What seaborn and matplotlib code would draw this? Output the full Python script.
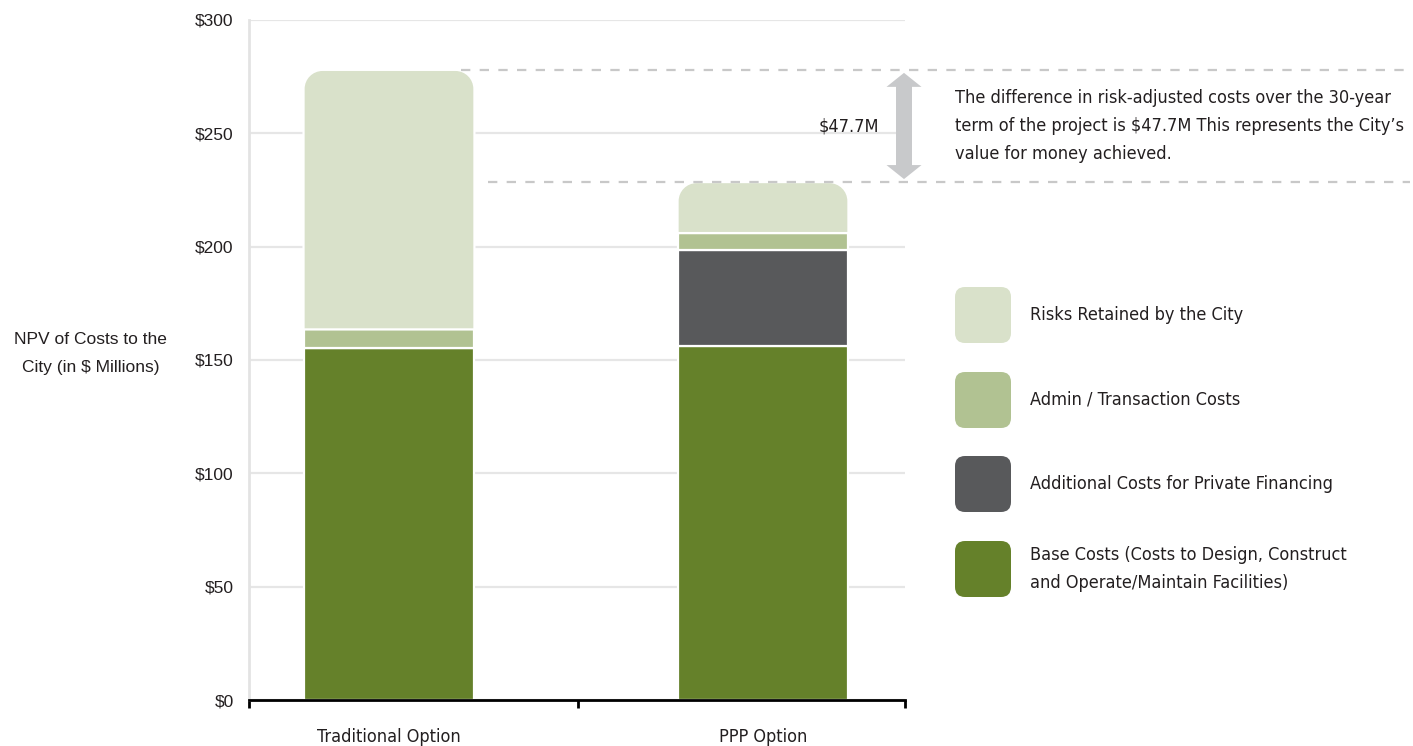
import numpy as np
import pandas as pd
import matplotlib
matplotlib.use("Agg")
import matplotlib.pyplot as plt
import seaborn as sns
from matplotlib.path import Path
from matplotlib.patches import PathPatch, FancyBboxPatch, FancyArrow

# ---------------- data ----------------
options = ["Traditional Option", "PPP Option"]
base_costs = [155.5, 156.0]
private_financing = [0.0, 42.5]
admin_costs = [8.0, 7.5]
risks_retained = [114.5, 22.5]

layer_names = [
    "Base Costs (Costs to Design, Construct\nand Operate/Maintain Facilities)",
    "Additional Costs for Private Financing",
    "Admin / Transaction Costs",
    "Risks Retained by the City",
]
layer_colors = ["#65812a", "#58595b", "#b1c292", "#d9e1ca"]

y_ticks = [0, 50, 100, 150, 200, 250, 300]
y_tick_labels = ["$0", "$50", "$100", "$150", "$200", "$250", "$300"]
y_label = "NPV of Costs to the\nCity (in $ Millions)"
difference_label = "$47.7M"
note_text = ("The difference in risk-adjusted costs over the 30-year\n"
             "term of the project is $47.7M This represents the City\u2019s\n"
             "value for money achieved.")

# ---------------- style ----------------
sns.set_style("white")
NARROW = ["Noto Sans Condensed", "DejaVu Sans Condensed", "DejaVu Sans"]
plt.rcParams["font.family"] = ["Liberation Sans", "DejaVu Sans"]
TXT = "#231f20"
NFS = 13.0
NKW = dict(family=NARROW, fontstretch="condensed", color=TXT, fontsize=NFS)

W, H = 1413, 746
fig = plt.figure(figsize=(W / 100, H / 100), dpi=100)
ax = fig.add_axes([249 / W, 1 - 700 / H, 656 / W, 680 / H])

layers = [base_costs, private_financing, admin_costs, risks_retained]
bottom = np.zeros(len(options))
risk_patches = []
for i, (vals, color) in enumerate(zip(layers, layer_colors)):
    df = pd.DataFrame({"option": options, "value": vals})
    n0 = len(ax.patches)
    sns.barplot(data=df, x="option", y="value", order=options, color=color,
                saturation=1, width=0.457, bottom=bottom, edgecolor="white",
                linewidth=1.6, errorbar=None, ax=ax, zorder=2)
    if i == len(layers) - 1:
        risk_patches = list(ax.patches[n0:])
    bottom = bottom + np.array(vals)
totals = bottom

# axis limits (pixel-matched)
x_left, x_right = -0.3743, 1.3797
ax.set_xlim(x_left, x_right)
ax.set_ylim(0, 300)
px_per_x = 656 / (x_right - x_left)
px_per_y = 680 / 300

# rounded tops on the top layer
def top_rounded_path(x, y, w, h, rx, ry):
    k = 0.5523
    verts = [(x, y), (x + w, y), (x + w, y + h - ry),
             (x + w, y + h - ry + k * ry), (x + w - rx + k * rx, y + h), (x + w - rx, y + h),
             (x + rx, y + h),
             (x + rx - k * rx, y + h), (x, y + h - ry + k * ry), (x, y + h - ry),
             (x, y)]
    codes = [Path.MOVETO, Path.LINETO, Path.LINETO,
             Path.CURVE4, Path.CURVE4, Path.CURVE4,
             Path.LINETO,
             Path.CURVE4, Path.CURVE4, Path.CURVE4,
             Path.CLOSEPOLY]
    return Path(verts, codes)

rx, ry = 19 / px_per_x, 19 / px_per_y
for p in risk_patches:
    x, y, w, h = p.get_x(), p.get_y(), p.get_width(), p.get_height()
    fc = p.get_facecolor()
    p.remove()
    ax.add_patch(PathPatch(top_rounded_path(x, y, w, h, rx, ry), facecolor=fc,
                           edgecolor="white", linewidth=1.6, zorder=2))

# axes styling
ax.set_yticks(y_ticks)
ax.set_yticklabels(y_tick_labels, fontsize=12.5, color=TXT)
ax.tick_params(axis="y", length=0, pad=11)
ax.set_xticks([0, 1])
ax.set_xticklabels(options)
for lab in ax.get_xticklabels():
    lab.set_fontfamily(NARROW)
    lab.set_fontstretch("condensed")
    lab.set_fontsize(NFS)
    lab.set_color(TXT)
ax.tick_params(axis="x", which="major", length=0, pad=20)
ax.set_xticks([x_left, 0.5053, x_right], minor=True)
ax.tick_params(axis="x", which="minor", bottom=True, length=6, width=2,
               color="black", direction="out")
ax.set_xlabel("")
ax.set_ylabel(y_label, rotation=0, fontsize=12.5, color=TXT, ha="center", va="center",
              multialignment="center", linespacing=2.1)
ax.yaxis.set_label_coords(-0.241, 0.509)

ax.grid(axis="y", color="#e6e6e6", linewidth=1.6)
ax.grid(axis="x", visible=False)
ax.set_axisbelow(True)
for s in ["top", "right"]:
    ax.spines[s].set_visible(False)
ax.spines["left"].set_color("#e3e3e3")
ax.spines["left"].set_linewidth(2)
ax.spines["bottom"].set_color("black")
ax.spines["bottom"].set_linewidth(2)

# dashed reference lines at the two totals
dash_color = "#c8c8c8"
x_end = x_left + (1410 - 249) / px_per_x
ax.plot([x_left + (461 - 249) / px_per_x, x_end], [totals[0], totals[0]],
        color=dash_color, lw=1.6, ls=(0, (4.2, 4.2)), clip_on=False, zorder=5)
ax.plot([x_left + (488 - 249) / px_per_x, x_end], [totals[1], totals[1]],
        color=dash_color, lw=1.6, ls=(0, (4.2, 4.2)), clip_on=False, zorder=5)

# double-headed arrow
arrow_x = x_left + (904 - 249) / px_per_x
mid = (totals[0] + totals[1]) / 2
top_tip = totals[0] - 3 / px_per_y
bot_tip = totals[1] + 3 / px_per_y
acol = "#c8c9cb"
for tip in (top_tip, bot_tip):
    a = FancyArrow(arrow_x, mid, 0, tip - mid, width=16 / px_per_x,
                   head_width=35 / px_per_x, head_length=14 / px_per_y,
                   length_includes_head=True, color=acol, lw=0, zorder=6,
                   clip_on=False)
    ax.add_patch(a)

fig.text(879 / W, 1 - 127 / H, difference_label, ha="right", va="center", **NKW)
fig.text(955 / W, 1 - 126 / H, note_text, ha="left", va="center",
         linespacing=1.74, **NKW)

# custom legend (top to bottom: risks, admin, financing, base)
leg_tops = [287, 372, 456, 541]
for top, name, color in zip(leg_tops, layer_names[::-1], layer_colors[::-1]):
    box = FancyBboxPatch((955 / W, 1 - (top + 56) / H), 56 / W, 56 / H,
                         boxstyle=f"round,pad=0,rounding_size={10 / W}",
                         mutation_aspect=W / H, transform=fig.transFigure,
                         facecolor=color, edgecolor="none")
    fig.patches.append(box)
    fig.text(1030 / W, 1 - (top + 28) / H, name, ha="left", va="center",
             linespacing=1.74, **NKW)

fig.savefig("out.png", dpi=100)
